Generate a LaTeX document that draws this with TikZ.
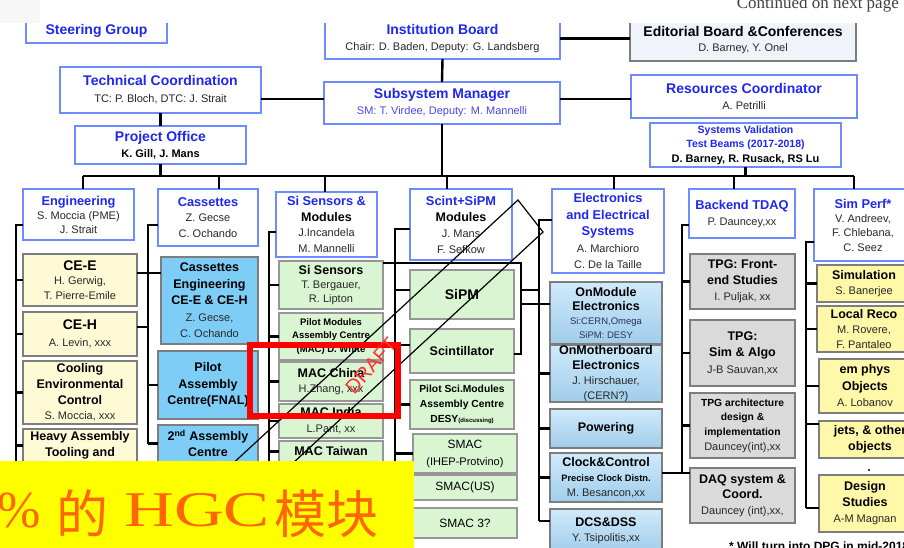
\documentclass[tikz,border=0pt]{standalone}
\usepackage{fontspec}
\setmainfont{Liberation Sans}
\newfontfamily\serifA{Liberation Serif}
\newfontfamily\cjkA{Noto Sans CJK SC}
\usepackage{graphicx}

\definecolor{tblue}{RGB}{30,40,240}
\definecolor{bblue}{RGB}{110,140,255}
\definecolor{ntext}{RGB}{40,40,40}
\definecolor{smv}{RGB}{80,70,230}
\definecolor{yelA}{RGB}{255,250,214}
\definecolor{yelB}{RGB}{255,248,168}
\definecolor{cyanB}{RGB}{125,205,247}
\definecolor{greenB}{RGB}{218,245,210}
\definecolor{grayB}{RGB}{218,218,218}
\definecolor{elecT}{RGB}{208,234,250}
\definecolor{elecB}{RGB}{160,205,235}
\definecolor{edF}{RGB}{238,244,250}
\definecolor{bgray}{RGB}{125,125,125}
\definecolor{bannerY}{RGB}{255,255,0}
\definecolor{orangeT}{RGB}{255,102,0}
\definecolor{draftred}{RGB}{255,50,50}
\definecolor{navyT}{RGB}{40,50,90}

\newcommand\Ft{\fontsize{14}{16}\selectfont\bfseries\color{tblue}}
\newcommand\Fc{\fontsize{12.8}{15}\selectfont\bfseries\color{tblue}}
\newcommand\Fsv{\fontsize{10.5}{12}\selectfont\bfseries\color{tblue}}
\newcommand\Fn{\fontsize{11}{13}\selectfont\mdseries\color{ntext}}
\newcommand\Fnb{\fontsize{11}{13}\selectfont\bfseries\color{black}}
\newcommand\Fk{\fontsize{12.5}{15}\selectfont\bfseries\color{black}}
\newcommand\Fkk{\fontsize{14}{16}\selectfont\bfseries\color{black}}
\newcommand\Fs{\fontsize{9.5}{11}\selectfont\bfseries\color{black}}
\newcommand\Fps{\fontsize{10.3}{12}\selectfont\bfseries\color{black}}
\newcommand\Fpc{\fontsize{9.3}{11}\selectfont\bfseries\color{black}}
\newcommand\Fr{\fontsize{12}{14}\selectfont\mdseries\color{black}}
\newcommand\Fe{\fontsize{9.5}{11}\selectfont\mdseries\color{navyT}}

\newcommand\bx[7]{\node[#1, minimum width={(#5)-(#3)}, minimum height={(#6)-(#4)}] (#2) at ({((#3)+(#5))/2},{((#4)+(#6))/2}) {#7};}

\tikzset{
  bxbase/.style={inner sep=0pt, outer sep=0pt, align=center, line width=1.2pt},
  ls/.style={font=\fontsize{11}{#1}\selectfont},
  tbox/.style={bxbase, draw=bblue, fill=white},
  ebox/.style={bxbase, draw=bgray, fill=edF},
  ybox/.style={bxbase, draw=bgray, fill=yelA},
  y2box/.style={bxbase, draw=bgray, fill=yelB},
  cbox/.style={bxbase, draw=bgray, fill=cyanB},
  gbox/.style={bxbase, draw=bgray!80, fill=greenB},
  xbox/.style={bxbase, draw=bgray, fill=grayB},
  lbox/.style={bxbase, draw=bgray, top color=elecT, bottom color=elecB},
  conn/.style={line width=2.4pt, draw=black},
}

\begin{document}
\begin{tikzpicture}[x=1pt,y=-1pt]
\useasboundingbox (0,0) rectangle (904,547);
\clip (0,0) rectangle (904,547);
\fill[white] (0,0) rectangle (904,547);

% ---- top level
\bx{tbox}{sg}{26}{18}{167}{43}{\Ft Steering Group}
\bx{tbox,ls=16}{ib}{325}{18}{560}{59}{\Ft Institution Board\\\Fn Chair: D. Baden, Deputy: G. Landsberg}
\bx{ebox,ls=15}{eb}{630}{20}{856}{61}{\Fkk Editorial Board \&Conferences\\\Fn D. Barney, Y. Onel}
\bx{tbox,ls=17}{tc}{60}{67}{261}{113}{\Ft Technical Coordination\\\Fn TC: P. Bloch, DTC: J. Strait}
\bx{tbox,ls=16}{sm}{324}{82}{560}{124}{\Ft Subsystem Manager\\\Fn\color{smv}SM: T. Virdee, Deputy: M. Mannelli}
\bx{tbox,ls=16}{rc}{631}{75}{857}{118}{\Ft Resources Coordinator\\\Fn A. Petrilli}
\bx{tbox,ls=16}{po}{75}{126}{246}{164}{\Ft Project Office\\\Fnb K. Gill, J. Mans}
\bx{tbox,ls=14.5}{sv}{650}{123}{841}{167}{\Fsv Systems Validation\\\Fsv Test Beams (2017-2018)\\\Fnb D. Barney, R. Rusack, RS Lu}

% ---- columns
\bx{tbox,ls=14}{eng}{23}{189}{134}{240}{\Fc Engineering\\\Fn S. Moccia (PME)\\\Fn J. Strait}
\bx{tbox,ls=15.5}{cas}{158}{189}{258}{246}{\Fc Cassettes\\\Fn Z. Gecse\\\Fn C. Ochando}
\bx{tbox,ls=15.7}{si}{276}{192}{377}{257}{\Fc Si Sensors \&\\\Fk Modules\\\Fn J.Incandela\\\Fn M. Mannelli}
\bx{tbox,ls=16}{sc}{410}{189}{512}{260}{\Fc Scint+SiPM\\\Fk Modules\\\Fn J. Mans\\\Fn F. Sefkow}
\bx{tbox,ls=16.5}{el}{552}{189}{664}{273}{\Fc Electronics\\\Fc and Electrical\\\Fc Systems\\\Fn A. Marchioro\\\Fn C. De la Taille}
\bx{tbox,ls=16}{be}{689}{189}{795}{238}{\Fc Backend TDAQ\\\Fn P. Dauncey,xx}
\bx{tbox,ls=14.3}{sp}{814}{189}{912}{261}{\Fc Sim Perf*\\\Fn V. Andreev,\\\Fn F. Chlebana,\\\Fn C. Seez}

% ---- engineering
\bx{ybox,ls=14.5}{cee}{23}{254}{137}{306}{\Fkk CE-E\\\Fn H. Gerwig,\\\Fn T. Pierre-Emile}
\bx{ybox,ls=17}{ceh}{23}{312}{137}{356}{\Fkk CE-H\\\Fn A. Levin, xxx}
\bx{ybox,ls=15.7}{cool}{23}{361}{137}{424}{\Fk Cooling\\\Fk Environmental\\\Fk Control\\\Fn S. Moccia, xxx}
\bx{ybox,ls=16}{heavy}{23}{429}{137}{462}{\Fk Heavy Assembly\\\Fk Tooling and}

% ---- cassettes
\bx{cbox,ls=16.5}{casse}{161}{257}{258}{344}{\Fk Cassettes\\\Fk Engineering\\\Fk CE-E \& CE-H\\\Fn Z. Gecse,\\\Fn C. Ochando}
\bx{cbox,ls=16.5}{pil}{158}{351}{258}{419}{\Fk Pilot\\\Fk Assembly\\\Fk Centre(FNAL)}
\bx{cbox,ls=16}{sec}{158}{425}{258}{462}{\Fk 2\textsuperscript{nd} Assembly\\\Fk Centre}

% ---- si sensors
\bx{gbox,ls=14}{sis}{279}{261}{383}{309}{\Fk Si Sensors\\\Fn T. Bergauer,\\\Fn R. Lipton}
\bx{gbox,ls=13.5}{pmac}{279}{313}{383}{360}{\Fs Pilot Modules\\\Fs Assembly Centre\\\Fs (MAC) D. White}
\bx{gbox,ls=15}{mch}{279}{362}{383}{401}{\Fk MAC China\\\Fn H.Zhang, xxx}
\bx{gbox,ls=16}{mind}{279}{404}{383}{438}{\Fk MAC India\\\Fn L.Pant, xx}
\bx{gbox}{mtw}{279}{441}{383}{462}{\Fk MAC Taiwan}

% ---- scint
\bx{gbox}{sipm}{410}{270}{514}{319}{\Fkk SiPM}
\bx{gbox}{scin}{410}{329}{514}{373}{\Fk Scintillator}
\bx{gbox,ls=15}{psci}{410}{380}{514}{429}{\Fps Pilot Sci.Modules\\\Fps Assembly Centre\\\Fps DESY{\fontsize{6}{7}\selectfont(discussing)}}
\bx{gbox,ls=17}{smA}{413}{434}{517}{473}{\Fr SMAC\\\Fn\color{black}(IHEP-Protvino)}
\bx{gbox}{smB}{413}{475}{517}{500}{\Fr SMAC(US)}
\bx{gbox}{smC}{413}{508}{517}{538}{\Fr SMAC 3?}

% ---- electronics
\bx{lbox,ls=14.3}{onm}{550}{282}{662}{344}{\Fk OnModule\\\Fk Electronics\\\Fe Si:CERN,Omega\\\Fe SiPM: DESY}
\bx{lbox,ls=15}{onmb}{550}{345}{662}{402}{\Fk OnMotherboard\\\Fk Electronics\\\Fn J. Hirschauer,\\\Fn (CERN?)}
\bx{lbox}{pow}{550}{409}{662}{448}{\Fk Powering}
\bx{lbox,ls=15}{clk}{550}{453}{662}{502}{\Fk Clock\&Control\\\Fpc Precise Clock Distn.\\\Fn M. Besancon,xx}
\bx{lbox,ls=15}{dcs}{550}{509}{662}{553}{\Fk DCS\&DSS\\\Fn Y. Tsipolitis,xx}

% ---- backend
\bx{xbox,ls=16}{tA}{690}{254}{795}{309}{\Fk TPG: Front-\\\Fk end Studies\\\Fn I. Puljak, xx}
\bx{xbox,ls=16.5}{tB}{690}{320}{795}{386}{\Fk TPG:\\\Fk Sim \& Algo\\\Fn J-B Sauvan,xx}
\bx{xbox,ls=14.7}{tC}{690}{393}{795}{458}{\Fps TPG architecture\\\Fps design \&\\\Fps implementation\\\Fn Dauncey(int),xx}
\bx{xbox,ls=15.5}{daq}{690}{468}{795}{523}{\Fk DAQ system \&\\\Fk Coord.\\\Fn Dauncey (int),xx,}

% ---- sim perf
\bx{y2box,ls=15}{simu}{817}{265}{911}{302}{\Fk Simulation\\\Fn S. Banerjee}
\bx{y2box,ls=15}{lr}{817}{306}{911}{352}{\Fk Local Reco\\\Fn M. Rovere,\\\Fn F. Pantaleo}
\bx{y2box,ls=16.5}{em}{819}{359}{911}{413}{\Fk em phys\\\Fk Objects\\\Fn A. Lobanov}
\bx{y2box,ls=16}{jets}{819}{421}{921}{458}{\Fk jets, \& other\\\Fk objects}
\bx{y2box,ls=16}{des}{819}{475}{911}{532}{\Fk Design\\\Fk Studies\\\Fn A-M Magnan}

% ---- connectors: top
\coordinate (h99) at (0,99);
\coordinate (bus) at (0,176);
\foreach \n/\x in {1/83,2/219,3/325,4/447,5/614,6/734,7/854} \coordinate (d\n) at (\x,176);
\draw[conn] (ib.south) -- (sm.north);
\draw[conn] (ib.east) -- (ib.east -| eb.west);
\draw[conn] (tc.east |- h99) -- (sm.west |- h99);
\draw[conn] (sm.east |- h99) -- (rc.west |- h99);
\draw[conn] (tc.south) -- (po.north);
\draw[conn] (po.south) -- (po.south |- bus);
\draw[conn] (sm.south) -- (sm.south |- bus);
\draw[conn] (sv.south) -- (sv.south |- bus);
\draw[conn] (d1) -- (d7);
\draw[conn] (d1) -- (d1 |- eng.north);
\draw[conn] (d2) -- (d2 |- cas.north);
\draw[conn] (d3) -- (d3 |- si.north);
\draw[conn] (d4) -- (d4 |- sc.north);
\draw[conn] (d5) -- (d5 |- el.north);
\draw[conn] (d6) -- (d6 |- be.north);
\draw[conn] (d7) -- (d7 |- sp.north);

% engineering
\coordinate (v1) at (16,225); \coordinate (v1e) at (16,500);
\draw[conn] (eng.west |- v1) -- (v1) -- (v1e);
\foreach \b in {cee,ceh,cool,heavy} \draw[conn] (v1 |- \b.west) -- (\b.west);
% cassettes
\coordinate (v2) at (148,225); \coordinate (v2e) at (148,444);
\coordinate (h273) at (0,273); \coordinate (h327) at (0,327);
\draw[conn] (cas.west |- v2) -- (v2) -- (v2e);
\draw[conn] (cee.east |- h273) -- (casse.west |- h273);
\draw[conn] (ceh.east |- h327) -- (v2 |- h327);
\foreach \b in {pil,sec} \draw[conn] (v2 |- \b.west) -- (\b.west);
% si
\coordinate (v3) at (269,232); \coordinate (v3e) at (269,470);
\draw[conn] (si.west |- v3) -- (v3) -- (v3e);
\foreach \b in {sis,pmac,mch,mind,mtw} \draw[conn] (v3 |- \b.west) -- (\b.west);
% electronics vertical
\coordinate (v5) at (539,220); \coordinate (v5e) at (539,521);
\draw[conn] (el.west |- v5) -- (v5) -- (v5e);
% scint
\coordinate (v4) at (395,229); \coordinate (v4e) at (395,530);
\coordinate (h290) at (0,290); \coordinate (h345) at (0,345);
\coordinate (h263) at (0,263); \coordinate (h354) at (0,354); \coordinate (h304) at (0,304);
\coordinate (xb) at (521,0);
\draw[conn] (sc.west |- v4) -- (v4) -- (v4e);
\draw[conn] (v4 |- h290) -- (sipm.west |- h290);
\draw[conn] (pmac.east |- h345) -- (scin.west |- h345);
\foreach \b in {psci,smA,smB,smC} \draw[conn] (v4 |- \b.west) -- (\b.west);
\draw[conn] (sis.east |- h263) -- (xb |- h263) -- (xb |- h354) -- (scin.east |- h354);
\draw[conn] (xb |- h290) -- (v5 |- h290);
% electronics branches
\draw[conn] (xb |- h304) -- (onm.west |- h304);
\foreach \b in {onmb,pow,clk} \draw[conn] (v5 |- \b.west) -- (\b.west);
\coordinate (h521) at (0,521);
\draw[conn] (v5 |- h521) -- (dcs.west |- h521);
% backend
\coordinate (v6) at (682,225); \coordinate (v6e) at (682,473);
\coordinate (h473) at (0,473);
\draw[conn] (be.west |- v6) -- (v6) -- (v6e);
\foreach \b in {tA,tB,tC} \draw[conn] (v6 |- \b.west) -- (\b.west);
\draw[conn] (clk.east |- h473) -- (daq.west |- h473);
% sim perf
\coordinate (v7) at (806,242); \coordinate (v7e) at (806,508);
\coordinate (h424) at (0,424); \coordinate (h508) at (0,508);
\draw[conn] (sp.west |- v7) -- (v7) -- (v7e);
\foreach \b in {simu,lr,em} \draw[conn] (v7 |- \b.west) -- (\b.west);
\draw[conn] (v7 |- h424) -- (jets.west |- h424);
\draw[conn] (v7 |- h508) -- (des.west |- h508);
\fill (869,470) circle (1.2);

% ---- draft watermark
\coordinate (wA) at (518,200); \coordinate (wB) at (543,232);
\coordinate (wC) at (161,585); \coordinate (wD) at (136,553);
\draw[line width=1.2pt] (wD) -- (wA) -- (wB) -- (wC);
\node[draw=red, line width=6pt, minimum width=148, minimum height=71, inner sep=0pt] (draftbox) at (324,380.5) {};
\node[rotate=49, text=draftred, font=\fontsize{20}{20}\selectfont, inner sep=0pt] (draft) at (371,366) {DRAFT};

% ---- banner
\node[fill=bannerY, anchor=north west, minimum width=414, minimum height=90, inner sep=0pt] (banner) at (0,461) {};
\node[anchor=base west, inner sep=0pt, text=orangeT, font=\serifA\fontsize{52}{52}\selectfont] (pct) at (-3,527) {\%};
\node[anchor=base west, inner sep=0pt, text=orangeT, font=\cjkA\fontsize{52}{52}\selectfont] (de) at (56,533) {的};
\node[anchor=base west, inner sep=0pt, text=orangeT, font=\serifA\fontsize{50}{50}\selectfont] (hgc) at (124,526) {\scalebox{1.38}[1]{HGC}};
\node[anchor=base west, inner sep=0pt, text=orangeT, font=\cjkA\fontsize{52}{52}\selectfont] (mk) at (274,533) {模块};

% ---- top band and notes
\fill[white] (0,-5) rectangle (904,22.5);
\fill[gray!6] (0,-5) rectangle (40,22.5);
\node[anchor=base east, inner sep=0pt, text=black!75, font=\serifA\fontsize{17}{17}\selectfont] (cont) at (899,8) {Continued on next page};
\node[anchor=base west, inner sep=0pt, font=\fontsize{12}{14}\selectfont\bfseries] (foot) at (729,550) {* Will turn into DPG in mid-2018};
\end{tikzpicture}
\end{document}
